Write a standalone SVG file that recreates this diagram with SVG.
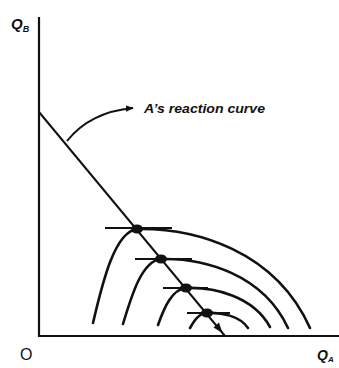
<svg xmlns="http://www.w3.org/2000/svg" width="339" height="368" viewBox="0 0 339 368">
<style>
.ax{stroke:#111;stroke-width:2.2;fill:none}
.ln{stroke:#111;stroke-width:2;fill:none}
.cv{stroke:#111;stroke-width:2.6;fill:none;stroke-linecap:round}
.tk{stroke:#111;stroke-width:2;fill:none}
.dot{fill:#111}
.lbl{font-family:"Liberation Sans",Arial,sans-serif;font-style:italic;font-weight:bold;fill:#111}
</style>
<defs>
<marker id="ah" viewBox="0 0 10 10" refX="9" refY="5" markerWidth="8" markerHeight="8" orient="auto" markerUnits="userSpaceOnUse">
<path d="M0,1 L10,5 L0,9 Z" fill="#111"/>
</marker>
</defs>
<g id="axes">
<path class="ax" d="M39 17 V336 H339"/>
<text class="lbl" x="11" y="29" font-size="15">Q<tspan font-size="9" dy="3">B</tspan></text>
<text class="lbl" x="317" y="360" font-size="14">Q<tspan font-size="8" dy="2">A</tspan></text>
<text x="20" y="360" font-family="Liberation Sans,Arial,sans-serif" font-size="16" fill="#111">O</text>
</g>
<g id="connectors">
<path class="ln" d="M39 112 L225 336"/>
<polygon points="222.5,333 213.5,327.5 219,322.5" fill="#111"/>
<path class="ln" d="M67 141 Q90 112 133 108" marker-end="url(#ah)"/>
</g>
<g id="label">
<text class="lbl" x="144" y="113" font-size="13.5" textLength="121" lengthAdjust="spacingAndGlyphs">A’s reaction curve</text>
</g>
<g id="curve1">
<path class="cv" d="M93 323 C103 280 115 232 137 229 C195 228 275 250 310 328"/>
<path class="tk" d="M105 228 H172"/>
<ellipse class="dot" cx="137" cy="229" rx="6" ry="4.5"/>
</g>
<g id="curve2">
<path class="cv" d="M123 324 C132 294 142 261 161 259 C204 258 263 274 288 328"/>
<path class="tk" d="M135 259 H192"/>
<ellipse class="dot" cx="161" cy="259" rx="6" ry="4.5"/>
</g>
<g id="curve3">
<path class="cv" d="M158 325 C164 308 172 289 186 288 C214 287 253 296 270 327"/>
<path class="tk" d="M163 288 H208"/>
<ellipse class="dot" cx="186" cy="288" rx="6" ry="4.5"/>
</g>
<g id="curve4">
<path class="cv" d="M190 328 C194 321 199 313 207 313 C221 312 240 316 248 328"/>
<path class="tk" d="M187 313 H230"/>
<ellipse class="dot" cx="207" cy="313" rx="6" ry="4.5"/>
</g>
</svg>
